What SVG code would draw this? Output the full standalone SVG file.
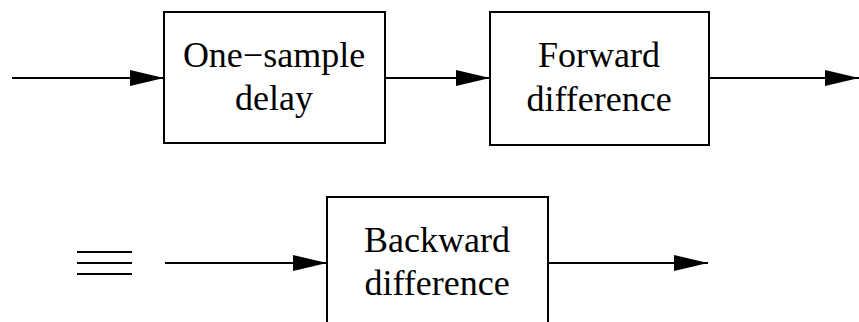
<svg xmlns="http://www.w3.org/2000/svg" width="859" height="322" viewBox="0 0 859 322">
<style>
.box{fill:#fff;stroke:#000;stroke-width:2}
.ln{stroke:#000;stroke-width:2;fill:none}
.t{font-family:"Liberation Serif","Times New Roman",serif;font-size:36px;fill:#000;text-anchor:middle}
</style>
<defs>
<marker id="ah" markerUnits="userSpaceOnUse" markerWidth="34" markerHeight="18" refX="34" refY="9" orient="auto">
<path d="M0,1 L34,9 L0,17 Z" fill="#000"/>
</marker>
</defs>
<rect width="859" height="322" fill="#fff"/>
<g id="connectors">
<line class="ln" x1="12" y1="78" x2="164" y2="78" marker-end="url(#ah)"/>
<line class="ln" x1="385" y1="78" x2="490" y2="78" marker-end="url(#ah)"/>
<line class="ln" x1="709" y1="78" x2="859" y2="78" marker-end="url(#ah)"/>
<line class="ln" x1="165" y1="263" x2="327" y2="263" marker-end="url(#ah)"/>
<line class="ln" x1="548" y1="263" x2="708" y2="263" marker-end="url(#ah)"/>
</g>
<g id="equiv">
<line class="ln" x1="77" y1="252" x2="132" y2="252"/>
<line class="ln" x1="77" y1="263" x2="132" y2="263"/>
<line class="ln" x1="77" y1="274" x2="132" y2="274"/>
</g>
<g id="delay">
<rect class="box" x="164" y="12" width="221" height="131"/>
<text class="t" x="274" y="67">One−sample</text>
<text class="t" x="274" y="110">delay</text>
</g>
<g id="forward">
<rect class="box" x="490" y="12" width="219" height="133"/>
<text class="t" x="599" y="67">Forward</text>
<text class="t" x="599" y="111">difference</text>
</g>
<g id="backward">
<rect class="box" x="327" y="197" width="221" height="140"/>
<text class="t" x="437" y="252">Backward</text>
<text class="t" x="437" y="295">difference</text>
</g>
</svg>
